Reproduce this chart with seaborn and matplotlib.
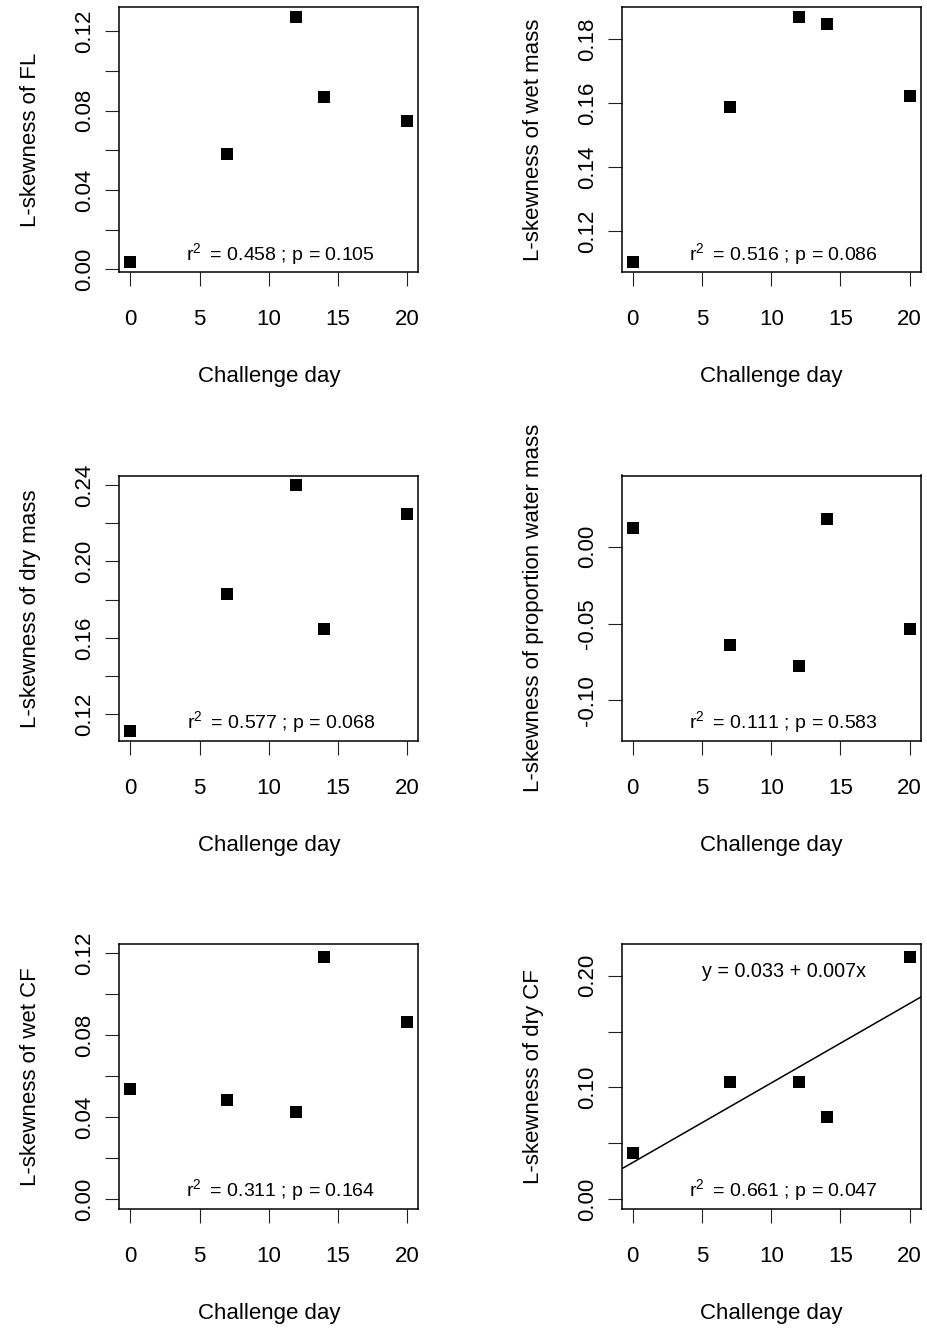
import matplotlib
matplotlib.use("Agg")
import matplotlib.pyplot as plt
import seaborn as sns
import pandas as pd

# ---- data ----
days = [0, 7, 12, 14, 20]
fl = [0.0035, 0.0581, 0.1273, 0.0869, 0.0746]
wet_mass = [0.1103, 0.1590, 0.1871, 0.1849, 0.1622]
dry_mass = [0.1112, 0.1829, 0.2398, 0.1644, 0.2248]
prop_water = [0.0125, -0.0636, -0.0775, 0.0180, -0.0535]
wet_cf = [0.0537, 0.0485, 0.0427, 0.1183, 0.0867]
dry_cf = [0.0417, 0.1045, 0.1045, 0.0737, 0.2168]

y_names = ["L-skewness of FL", "L-skewness of wet mass", "L-skewness of dry mass",
           "L-skewness of proportion water mass", "L-skewness of wet CF",
           "L-skewness of dry CF"]
stats_text = ["0.458 ; p = 0.105", "0.516 ; p = 0.086", "0.577 ; p = 0.068",
              "0.111 ; p = 0.583", "0.311 ; p = 0.164", "0.661 ; p = 0.047"]
eq_text = "y = 0.033 + 0.007x"

x_ticks = [0, 5, 10, 15, 20]
y_ticks = [
    [0.00, 0.02, 0.04, 0.06, 0.08, 0.10, 0.12],
    [0.12, 0.14, 0.16, 0.18],
    [0.12, 0.14, 0.16, 0.18, 0.20, 0.22, 0.24],
    [-0.10, -0.05, 0.00],
    [0.00, 0.02, 0.04, 0.06, 0.08, 0.10, 0.12],
    [0.00, 0.05, 0.10, 0.15, 0.20],
]
y_tick_labels = [
    ["0.00", "", "0.04", "", "0.08", "", "0.12"],
    ["0.12", "0.14", "0.16", "0.18"],
    ["0.12", "", "0.16", "", "0.20", "", "0.24"],
    ["-0.10", "-0.05", "0.00"],
    ["0.00", "", "0.04", "", "0.08", "", "0.12"],
    ["0.00", "", "0.10", "", "0.20"],
]
# explicit y ranges (None = data range), R-style 4% expansion
y_ranges = [None, None, None, (-0.12, 0.04), (0.0, 0.12), (0.0, 0.22)]
series = [fl, wet_mass, dry_mass, prop_water, wet_cf, dry_cf]
fit_line = [False, False, False, False, False, True]

# ---- style ----
sns.set_theme(style="ticks")
plt.rcParams["font.family"] = ["Liberation Sans", "DejaVu Sans"]
plt.rcParams["mathtext.fontset"] = "custom"
plt.rcParams["mathtext.rm"] = "Liberation Sans"
plt.rcParams["mathtext.it"] = "Liberation Sans:italic"
plt.rcParams["axes.edgecolor"] = "black"
plt.rcParams["axes.linewidth"] = 1.1
plt.rcParams["text.color"] = "black"
plt.rcParams["axes.labelcolor"] = "black"
plt.rcParams["xtick.color"] = "black"
plt.rcParams["ytick.color"] = "black"
plt.rcParams["xtick.labelcolor"] = "black"
plt.rcParams["ytick.labelcolor"] = "black"

fig = plt.figure(figsize=(9.27, 13.32), dpi=100)

col_left = [119.3 / 927, 621.7 / 927]
width = 299 / 927
row_bottom = [1 - 272.3 / 1332, 1 - 741 / 1332, 1 - 1209 / 1332]
height = 265.5 / 1332


def r_range(lo, hi):
    r = hi - lo
    return lo - 0.04 * r, hi + 0.04 * r


for i, vals in enumerate(series):
    row, col = divmod(i, 2)
    ax = fig.add_axes([col_left[col], row_bottom[row], width, height])
    df = pd.DataFrame({"day": days, "value": vals})
    xlim = r_range(min(days), max(days))
    if y_ranges[i] is None:
        ylim = r_range(min(vals), max(vals))
    else:
        ylim = r_range(*y_ranges[i])
    ax.set_xlim(*xlim)
    ax.set_ylim(*ylim)
    sns.scatterplot(data=df, x="day", y="value", ax=ax, marker="s", s=70,
                    color="black", linewidth=0, zorder=3)
    if fit_line[i]:
        sns.regplot(data=df, x="day", y="value", ax=ax, scatter=False, ci=None,
                    truncate=False, color="black", line_kws={"linewidth": 1.1})
        ax.text(0.544, 0.874, eq_text, transform=ax.transAxes, ha="center",
                va="baseline", fontsize=14.2, color="black")
    ax.set_xlim(*xlim)
    ax.set_ylim(*ylim)

    ax.set_xticks(x_ticks)
    ax.set_xticklabels([str(t) for t in x_ticks], fontsize=16)
    ax.set_yticks(y_ticks[i])
    ax.set_yticklabels(y_tick_labels[i], fontsize=16, rotation=90, va="center")
    ax.tick_params(axis="x", length=10.4, width=0.8, color="#222222", pad=16,
                   bottom=True, direction="out", labelcolor="black")
    ax.tick_params(axis="y", length=10.4, width=0.8, color="#222222", pad=6.8,
                   left=True, direction="out", labelcolor="black")
    for s in ax.spines.values():
        s.set_visible(True)
        s.set_linewidth(1.1)
        s.set_color("black")

    ax.set_xlabel("Challenge day", fontsize=16, color="black")
    ax.set_ylabel(y_names[i], fontsize=16, color="black")
    ax.xaxis.set_label_coords(0.5, -0.353)
    ax.yaxis.set_label_coords(-0.2605, 0.5)

    ax.text(0.54, 0.047, r"r$^{2}$ $=\,$" + stats_text[i], transform=ax.transAxes,
            ha="center", va="baseline", fontsize=14, color="black")

fig.savefig("out.png", dpi=100, facecolor="white")
